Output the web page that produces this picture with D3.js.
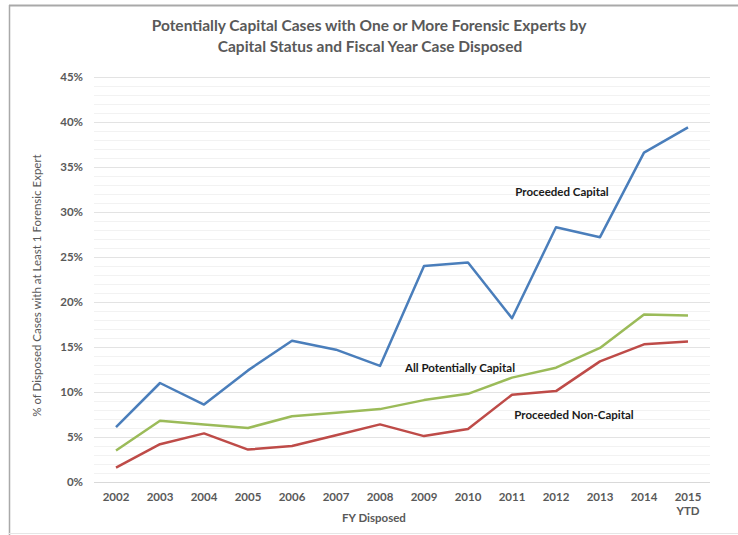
<!DOCTYPE html>
<html>
<head>
<meta charset="utf-8">
<script src="https://cdn.jsdelivr.net/npm/d3@7"></script>
<style>
  body { margin: 0; background: #fff; }
  text { font-family: Lato, "Open Sans", sans-serif; }
</style>
</head>
<body>
<div id="container"></div>
<script>
// Chart data.
const years = ['2002', '2003', '2004', '2005', '2006', '2007', '2008',
  '2009', '2010', '2011', '2012', '2013', '2014', '2015'];
const proceededCapital = [6.1, 11.0, 8.6, 12.4, 15.7, 14.7, 12.9, 24.0, 24.4, 18.2, 28.3, 27.2, 36.6, 39.4];
const allPotentiallyCapital = [3.5, 6.8, 6.4, 6.0, 7.3, 7.7, 8.1, 9.1, 9.8, 11.6, 12.7, 14.9, 18.6, 18.5];
const proceededNonCapital = [1.6, 4.2, 5.4, 3.6, 4.0, 5.2, 6.4, 5.1, 5.9, 9.7, 10.1, 13.4, 15.3, 15.6];
const yTicks = [0, 5, 10, 15, 20, 25, 30, 35, 40, 45];

const series = [
  { name: 'Proceeded Capital', values: proceededCapital, colour: '#4a7ebb', label: [562, 192] },
  { name: 'All Potentially Capital', values: allPotentiallyCapital, colour: '#9bbb59', label: [460, 368] },
  { name: 'Proceeded Non-Capital', values: proceededNonCapital, colour: '#be4b48', label: [574, 415] }
];

const width = 738, height = 535;
const plot = { left: 94, right: 710, top: 77, bottom: 482 };

const svg = d3.select('#container')
  .append('svg')
  .attr('width', width)
  .attr('height', height);

// Outer frame.
svg.append('line').attr('x1', 9).attr('x2', width).attr('y1', 5.5).attr('y2', 5.5)
  .attr('stroke', '#a9a9a9').attr('stroke-width', 2);
svg.append('line').attr('x1', 9.5).attr('x2', 9.5).attr('y1', 5).attr('y2', height)
  .attr('stroke', '#a9a9a9').attr('stroke-width', 1.5);
svg.append('line').attr('x1', 9).attr('x2', width).attr('y1', 533.5).attr('y2', 533.5)
  .attr('stroke', '#e6e6e6').attr('stroke-width', 1);

// Scales.
const x = d3.scaleBand().domain(years).range([plot.left, plot.right]);
const y = d3.scaleLinear().domain([0, 45]).range([plot.bottom, plot.top]);

// Minor gridlines every 1%.
svg.append('g')
  .selectAll('line')
  .data(d3.range(1, 45).filter(d => d % 5 !== 0))
  .enter()
  .append('line')
  .attr('x1', plot.left).attr('x2', plot.right)
  .attr('y1', d => Math.round(y(d)) + 0.5).attr('y2', d => Math.round(y(d)) + 0.5)
  .attr('stroke', '#f2f2f2');

// Major gridlines + y axis labels.
const yAxis = svg.append('g')
  .attr('transform', `translate(${plot.left},0)`)
  .call(d3.axisLeft(y).tickValues(yTicks).tickSize(-(plot.right - plot.left)).tickFormat(d => d + '%'));
yAxis.select('.domain').remove();
yAxis.selectAll('.tick line')
  .attr('stroke', d => d === 0 ? '#d9d9d9' : '#e3e3e3')
  .attr('stroke-width', 1);
yAxis.selectAll('.tick text')
  .attr('x', -11)
  .attr('fill', '#595959')
  .attr('font-size', '11.5px')
  .attr('font-weight', 'bold');

// X axis labels.
const xAxis = svg.append('g')
  .attr('transform', `translate(0,${plot.bottom})`)
  .call(d3.axisBottom(x).tickSize(0).tickPadding(11));
xAxis.select('.domain').remove();
xAxis.selectAll('.tick text')
  .attr('fill', '#595959')
  .attr('font-size', '11.5px')
  .attr('font-weight', 'bold');
xAxis.selectAll('.tick')
  .filter(d => d === '2015')
  .append('text')
  .attr('y', 25)
  .attr('dy', '0.71em')
  .attr('fill', '#595959')
  .attr('font-size', '11.5px')
  .attr('font-weight', 'bold')
  .attr('text-anchor', 'middle')
  .text('YTD');

// Lines.
const line = d3.line()
  .x((d, i) => x(years[i]) + x.bandwidth() / 2)
  .y(d => y(d));

svg.append('g')
  .selectAll('path')
  .data(series)
  .enter()
  .append('path')
  .attr('d', d => line(d.values))
  .attr('fill', 'none')
  .attr('stroke', d => d.colour)
  .attr('stroke-width', 2.5)
  .attr('stroke-linejoin', 'round');

// Series labels.
svg.append('g')
  .selectAll('text')
  .data(series)
  .enter()
  .append('text')
  .attr('x', d => d.label[0])
  .attr('y', d => d.label[1])
  .attr('dy', '0.35em')
  .attr('text-anchor', 'middle')
  .attr('fill', '#1a1a1a')
  .attr('font-size', '11.5px')
  .attr('font-weight', 'bold')
  .text(d => d.name);

// Title.
const title = svg.append('text')
  .attr('text-anchor', 'middle')
  .attr('fill', '#595959')
  .attr('font-size', '15.5px')
  .attr('font-weight', 'bold');
title.append('tspan').attr('x', 369).attr('y', 31).text('Potentially Capital Cases with One or More Forensic Experts by');
title.append('tspan').attr('x', 370).attr('y', 52).text('Capital Status and Fiscal Year Case Disposed');

// Axis titles.
svg.append('text')
  .attr('transform', `translate(37,${(plot.top + plot.bottom) / 2 + 6}) rotate(-90)`)
  .attr('dy', '0.35em')
  .attr('text-anchor', 'middle')
  .attr('fill', '#595959')
  .attr('font-size', '11.5px')
  .text('% of Disposed Cases with at Least 1 Forensic Expert');

svg.append('text')
  .attr('x', 374)
  .attr('y', 518)
  .attr('dy', '0.35em')
  .attr('text-anchor', 'middle')
  .attr('fill', '#595959')
  .attr('font-size', '11.5px')
  .attr('font-weight', 'bold')
  .text('FY Disposed');
</script>
</body>
</html>
